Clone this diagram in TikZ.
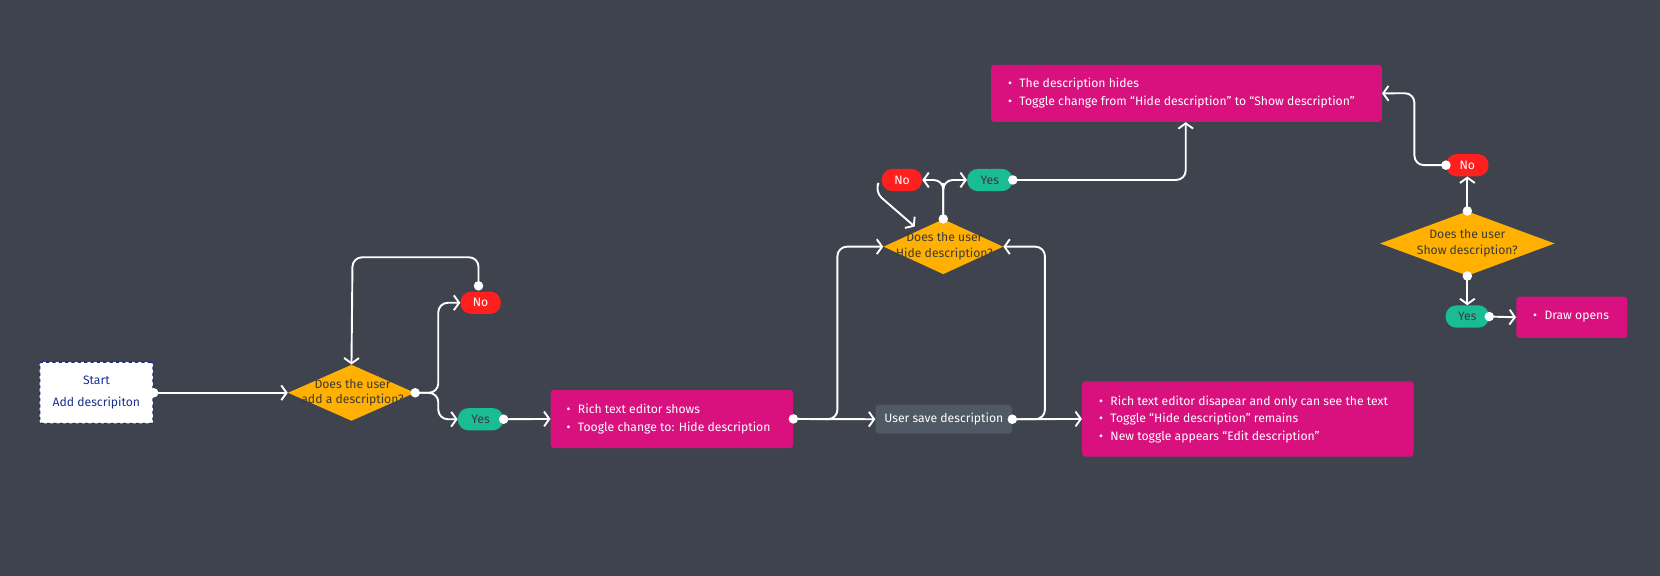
\documentclass[tikz,border=0pt]{standalone}
\usepackage{fontspec}
\setmainfont{Fira Sans}
\usetikzlibrary{shapes.geometric,arrows.meta}
\definecolor{bg}{HTML}{3F434D}
\definecolor{mag}{HTML}{D8117F}
\definecolor{nored}{HTML}{FF1F1F}
\definecolor{yesgr}{HTML}{1ABC94}
\definecolor{dia}{HTML}{FFB000}
\definecolor{sv}{HTML}{4F5A65}
\definecolor{navy}{HTML}{1A2F8C}
\definecolor{dtext}{HTML}{3A3A3A}
\begin{document}
\begin{tikzpicture}[x=1pt,y=-1pt,font=\fontsize{11.5}{16.5}\selectfont,
  box/.style={fill=mag,rounded corners=3pt,anchor=north west,text=white,align=left,inner xsep=0pt},
  dec/.style={diamond,fill=dia,text=dtext,inner sep=0pt,align=center,font=\fontsize{11.5}{15}\selectfont},
  pill/.style={rounded corners=10pt,minimum height=21pt,minimum width=40pt,inner sep=0pt,text=white},
  con/.style={draw=white,line width=1.8pt,rounded corners=9pt,-{Straight Barb[length=5pt,width=14pt,line width=1.8pt]}},
  dot/.style={circle,fill=white,inner sep=0pt,minimum size=9pt}]
\fill[bg] (0,0) rectangle (1568,544);
\node[draw=navy,dashed,line width=1.3pt,fill=white,text=navy,rounded corners=2pt,minimum width=107pt,minimum height=58pt,align=center,inner sep=0pt,font=\fontsize{11.5}{21}\selectfont] (start) at (91,371) {Start\\Add descripiton};
\node[dec,minimum width=120pt,minimum height=53pt] (d1) at (332,371) {};
\node[text=dtext,align=center,font=\fontsize{11.5}{15}\selectfont] (d1t) at (333,371) {Does the user\\add a description?};
\node[pill,fill=nored,minimum width=38pt] (no1) at (454,286) {No};
\node[pill,fill=yesgr,text=dtext,minimum width=43pt] (yes1) at (454,396) {Yes};
\node[box,minimum width=229pt,minimum height=55pt,text width=211pt,inner xsep=0pt] (b1) at (520,368) {};
\node[text=white,align=left,anchor=west,inner sep=0pt] (b1t) at (535,396) {\textbullet\hspace{7pt}Rich text editor shows\\\textbullet\hspace{7pt}Toogle change to: Hide description};
\node[fill=sv,rounded corners=3pt,minimum width=129pt,minimum height=27pt,inner sep=0pt,text=white] (save) at (891.5,396) {User save description};
\node[box,minimum width=313pt,minimum height=71pt] (b2) at (1022,360) {};
\node[text=white,align=left,anchor=west,inner sep=0pt] (b2t) at (1038,396) {\textbullet\hspace{7pt}Rich text editor disapear and only can see the text\\\textbullet\hspace{7pt}Toggle “Hide description” remains\\\textbullet\hspace{7pt}New toggle appears “Edit description”};
\node[dec,minimum width=113pt,minimum height=52pt] (d2) at (891,233) {};
\node[text=dtext,align=center,font=\fontsize{11.5}{15}\selectfont] (d2t) at (892,233) {Does the user\\Hide description?};
\node[pill,fill=nored,minimum width=38pt] (no2) at (852,170) {No};
\node[pill,fill=yesgr,text=dtext,minimum width=43pt] (yes2) at (935,170) {Yes};
\node[box,minimum width=369pt,minimum height=54pt] (b3) at (936,61) {};
\node[text=white,align=left,anchor=west,inner sep=0pt] (b3t) at (952,88) {\textbullet\hspace{7pt}The description hides\\\textbullet\hspace{7pt}Toggle change from “Hide description” to “Show description”};
\node[dec,minimum width=165pt,minimum height=61pt] (d3) at (1386,230) {};
\node[text=dtext,align=center,font=\fontsize{11.5}{15}\selectfont] (d3t) at (1386,230) {Does the user\\Show description?};
\node[pill,fill=nored,minimum width=40pt] (no3) at (1386,156) {No};
\node[pill,fill=yesgr,text=dtext,minimum width=41pt] (yes3) at (1386,299) {Yes};
\node[box,minimum width=105pt,minimum height=39pt] (b4) at (1432,280) {};
\node[text=white,anchor=west,inner sep=0pt] (b4t) at (1448,299) {\textbullet\hspace{7pt}Draw opens};
% connectors
\draw[con] (start.east) -- (d1.west);
\draw[con] (d1.east) -- (414,371) -- (414,286) -- (no1.west);
\draw[con] (d1.east) -- (414,371) -- (414,396) -- (yes1.west);
\draw[con] (452,272) -- (452,243) -- (333,243) -- (d1.north);
\draw[con] (yes1.east) -- (b1.west);
\draw[con] (b1.east) -- (save.west);
\draw[con] (b1.east) -- (791,396) -- (791,233) -- (d2.west);
\draw[con] (save.east) -- (b2.west);
\draw[con] (save.east) -- (987,396) -- (987,233) -- (d2.east);
\draw[con] (d2.north) -- (891,182) -- (891,170) -- (no2.east);
\draw[con] (d2.north) -- (891,182) -- (891,170) -- (yes2.west);
\draw[con] (no2.west) ++(-4,5) -- (826,181) -- (864,214);
\draw[con] (yes2.east) -- (1120,170) -- (b3.south -| 1120,0);
\draw[con] (d3.north) -- (no3.south);
\draw[con] (no3.west) -- (1336,156) -- (1336,88) -- (b3.east);
\draw[con] (d3.south) -- (yes3.north);
\draw[con] (yes3.east) -- (b4.west);
% dots
\node[dot] (p1) at (start.east) {};
\node[dot] (p2) at (d1.east) {};
\node[dot] (p3) at (452,270) {};
\node[dot] (p4) at (yes1.east) {};
\node[dot] (p5) at (b1.east) {};
\node[dot] (p6) at (save.east) {};
\node[dot] (p7) at (d2.north) {};
\node[dot] (p8) at (yes2.east) {};
\node[dot] (p9) at (d3.north) {};
\node[dot] (p10) at (no3.west) {};
\node[dot] (p11) at (d3.south) {};
\node[dot] (p12) at (yes3.east) {};
\end{tikzpicture}
\end{document}
